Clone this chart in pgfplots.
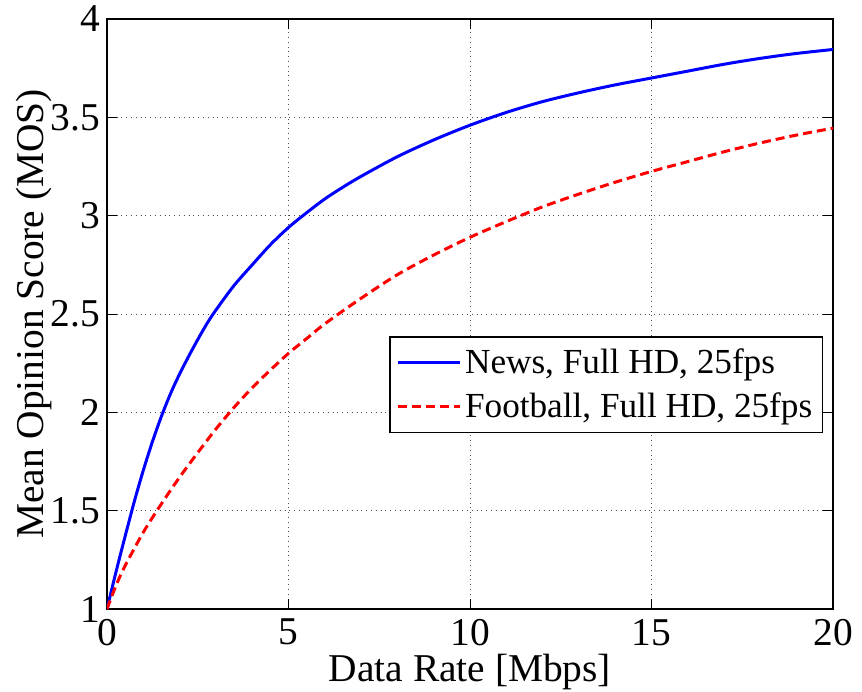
\documentclass[border=0pt]{standalone}
\usepackage{fontspec}
\setmainfont{Liberation Serif}
\usepackage{pgfplots}
\pgfplotsset{compat=1.18}
\begin{document}
\begin{tikzpicture}
\path[use as bounding box] (-53.5pt,-41pt) rectangle (377.5pt,304.5pt);
\begin{axis}[
  at={(0,0)}, anchor=south west,
  scale only axis, width=363pt, height=295pt,
  xmin=0, xmax=20, ymin=1, ymax=4,
  xtick={0,5,10,15,20},
  ytick={1,1.5,2,2.5,3,3.5,4},
  yticklabels={1,1.5,2,2.5,3,3.5,4},
  font=\fontsize{19.7}{23}\selectfont,
  /pgf/number format/assume math mode=true,
  tick align=inside,
  major tick length=5pt,
  axis line style={line width=0.6pt},
  tick style={line width=0.5pt, black},
  grid=major,
  grid style={dotted, black!70, line width=0.5pt},
  xticklabel style={yshift=-1.5pt},
  xlabel={Data Rate [Mbps]},
  ylabel={Mean Opinion Score (MOS)},
  xlabel style={at={(axis description cs:0.5,0)}, anchor=north, yshift=-19pt},
  ylabel style={at={(axis description cs:0,0.5)}, anchor=south, yshift=24pt},
  legend cell align=left,
  legend style={at={(rel axis cs:0.986,0.298)}, anchor=south east, draw=black, line width=0.6pt,
    font=\fontsize{17.6}{21}\selectfont, inner xsep=3pt, inner ysep=4pt, row sep=4pt},
  legend image code/.code={\draw[#1] (0pt,0pt) -- (31pt,0pt);},
]
\addplot[blue, line width=1.5pt, smooth, tension=0.5] coordinates {
(0,1) (0.25,1.19) (0.5,1.37) (0.75,1.545) (1,1.705) (1.25,1.85) (1.5,1.98) (1.75,2.095)
(2,2.195) (2.25,2.285) (2.5,2.37) (2.75,2.45) (3,2.52) (3.5,2.645) (4,2.75) (4.5,2.852)
(5,2.94) (5.5,3.015) (6,3.085) (6.5,3.145) (7,3.2) (8,3.30) (9,3.385) (10,3.46)
(11,3.525) (12,3.58) (13,3.625) (14,3.665) (15,3.70) (16,3.735) (17,3.77) (18,3.80)
(19,3.825) (20,3.845)
};
\addlegendentry{News, Full HD, 25fps}
\addplot[red, line width=1.5pt, dash pattern=on 4.5pt off 2.5pt, smooth, tension=0.5] coordinates {
(0,1) (0.25,1.12) (0.5,1.22) (1,1.39) (1.5,1.535) (2,1.67) (2.5,1.795)
(3,1.915) (3.5,2.025) (4,2.125) (4.5,2.215) (5,2.30) (5.5,2.375) (6,2.45) (7,2.58) (8,2.70)
(9,2.80) (10,2.89) (11,2.97) (12,3.045) (13,3.11) (14,3.17) (15,3.225)
(16,3.275) (17,3.325) (18,3.37) (19,3.41) (20,3.445)
};
\addlegendentry{Football, Full HD, 25fps}
\end{axis}
\end{tikzpicture}
\end{document}
